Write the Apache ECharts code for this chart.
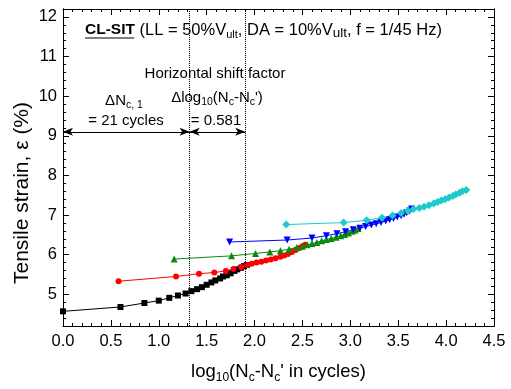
<!DOCTYPE html>
<html>
<head>
<meta charset="utf-8">
<script src="https://cdn.jsdelivr.net/npm/echarts@6/dist/echarts.min.js"></script>
<style>html,body{margin:0;padding:0;background:#fff}#c{width:511px;height:389px}</style>
</head>
<body>
<div id="c"></div>
<script>
// x = log10(Nc - Nc'), y = tensile strain (%)
var blackData = [[0,4.57],[0.60,4.68],[0.85,4.78],[1.00,4.84],[1.11,4.91],[1.20,4.97],[1.28,5.02],[1.34,5.08],[1.40,5.13],[1.45,5.18],[1.50,5.24],[1.55,5.30],[1.59,5.35],[1.64,5.40],[1.67,5.45],[1.71,5.48],[1.75,5.53],[1.79,5.59],[1.82,5.63],[1.86,5.67],[1.89,5.71],[1.92,5.74]];
var redData = [[0.58,5.33],[1.18,5.45],[1.42,5.52],[1.58,5.55],[1.70,5.59],[1.78,5.64],[1.86,5.69],[1.92,5.74],[1.97,5.77],[2.02,5.80],[2.07,5.82],[2.12,5.85],[2.17,5.88],[2.22,5.91],[2.27,5.95],[2.31,5.98],[2.35,6.02],[2.39,6.07],[2.43,6.12],[2.47,6.17],[2.50,6.21],[2.53,6.25]];
var greenData = [[1.16,5.89],[1.76,5.97],[2.01,6.03],[2.16,6.07],[2.27,6.10],[2.36,6.14],[2.44,6.18],[2.50,6.21],[2.55,6.25],[2.60,6.28],[2.65,6.31],[2.70,6.35],[2.75,6.38],[2.80,6.41],[2.85,6.44],[2.90,6.48],[2.94,6.51],[2.98,6.55],[3.02,6.59],[3.05,6.62],[3.08,6.66]];
var blueData = [[1.74,6.32],[2.34,6.37],[2.60,6.42],[2.75,6.48],[2.86,6.53],[2.95,6.58],[3.03,6.63],[3.10,6.67],[3.16,6.71],[3.22,6.75],[3.27,6.78],[3.32,6.81],[3.37,6.85],[3.41,6.88],[3.45,6.91],[3.49,6.95],[3.53,6.98],[3.56,7.02],[3.59,7.06],[3.62,7.10],[3.64,7.15]];
var cyanData = [[2.33,6.76],[2.93,6.81],[3.17,6.87],[3.33,6.93],[3.44,6.99],[3.53,7.05],[3.60,7.10],[3.66,7.15],[3.72,7.18],[3.77,7.21],[3.82,7.25],[3.87,7.29],[3.91,7.33],[3.95,7.37],[3.99,7.40],[4.03,7.44],[4.07,7.48],[4.10,7.52],[4.14,7.56],[4.17,7.60],[4.21,7.63]];

var shiftLines = [1.322, 1.903];   // log10(21), log10(21)+0.581
var arrowY = 9.1;

var yMajorTicks = [5, 6, 7, 8, 9, 10, 11, 12];
var yMinorTicks = [];
for (var v = 44; v <= 122; v += 2) { yMinorTicks.push(v / 10); }

var chart = echarts.init(document.getElementById('c'), null, {renderer: 'canvas'});
var FONT = 'Liberation Sans, Arial, sans-serif';

function yAx(pos, ticks, len, labels) {
  return {
    type: 'value', position: pos, min: 4.2, max: 12.2,
    axisLine: {show: true, onZero: false, lineStyle: {color: '#000', width: 1}},
    axisTick: {show: true, inside: true, length: len, customValues: ticks, lineStyle: {color: '#000', width: 1}},
    axisLabel: labels ? {show: true, customValues: yMajorTicks, color: '#000', fontSize: 16.5, fontFamily: FONT, margin: 6} : {show: false},
    splitLine: {show: false}
  };
}
function xAx(pos, labels) {
  return {
    type: 'value', position: pos, min: 0, max: 4.5, interval: 0.5,
    axisLine: {show: true, onZero: false, lineStyle: {color: '#000', width: 1}},
    axisTick: {show: true, inside: true, length: 6, lineStyle: {color: '#000', width: 1}},
    minorTick: {show: true, splitNumber: 5, length: 3, lineStyle: {color: '#000', width: 1}},
    axisLabel: labels ? {show: true, color: '#000', fontSize: 16.5, fontFamily: FONT, margin: 7,
      formatter: function (v) { return v.toFixed(1); }} : {show: false},
    splitLine: {show: false},
    name: labels ? 'log{s|10}(N{s|c}-N{s|c}\' in cycles)' : '',
    nameLocation: 'middle', nameGap: 34,
    nameTextStyle: {color: '#000', fontSize: 18.5, fontFamily: FONT, lineHeight: 24,
      rich: {s: {fontSize: 12, lineHeight: 13, verticalAlign: 'bottom', color: '#000', fontFamily: FONT}}}
  };
}
function sym(name, color, size, data) {
  return {
    type: 'line', data: data, symbol: name, symbolSize: size, showSymbol: true,
    lineStyle: {color: color, width: 1}, itemStyle: {color: color},
    xAxisIndex: 0, yAxisIndex: 0, animation: false, z: 3
  };
}

var black = sym('rect', '#000000', 6, blackData);
black.markLine = {
  silent: true, animation: false, label: {show: false},
  symbol: ['none', 'none'],
  lineStyle: {color: '#000', type: 'dotted', width: 1},
  data: [
    {xAxis: shiftLines[0]}, {xAxis: shiftLines[1]},
    [{coord: [0, arrowY], symbol: 'arrow', symbolSize: [6, 10], lineStyle: {type: 'solid', width: 1}},
     {coord: [shiftLines[0], arrowY], symbol: 'arrow', symbolSize: [6, 10]}],
    [{coord: [shiftLines[0], arrowY], symbol: 'arrow', symbolSize: [6, 10], lineStyle: {type: 'solid', width: 1}},
     {coord: [shiftLines[1], arrowY], symbol: 'arrow', symbolSize: [6, 10]}]
  ]
};

var sub = {fontSize: 10.5, lineHeight: 11, verticalAlign: 'bottom', fontFamily: FONT, fill: '#000'};

var option = {
  backgroundColor: '#fff',
  animation: false,
  grid: {left: 63, right: 17, top: 9, bottom: 48, containLabel: false},
  xAxis: [xAx('bottom', true), xAx('top', false)],
  yAxis: [yAx('left', yMajorTicks, 6, true), yAx('left', yMinorTicks, 3, false),
          yAx('right', yMajorTicks, 6, false), yAx('right', yMinorTicks, 3, false)],
  series: [
    black,
    sym('circle', '#ff0000', 6, redData),
    sym('triangle', '#0a8a0a', 7, greenData),
    Object.assign(sym('triangle', '#0000ff', 7, blueData), {symbolRotate: 180}),
    sym('diamond', '#1ccaca', 8, cyanData)
  ],
  graphic: [
    {type: 'text', x: 85, y: 30, style: {
      text: '{b|CL-SIT} (LL = 50%V{s|ult}, DA = 10%V{s2|ult}, f = 1/45 Hz)',
      fontSize: 16.5, lineHeight: 21, fontFamily: FONT, fill: '#000', verticalAlign: 'middle', align: 'left',
      rich: {b: {fontWeight: 'bold', fontSize: 15.5, lineHeight: 21, fontFamily: FONT, fill: '#000'},
             s: {fontSize: 11, lineHeight: 11, verticalAlign: 'bottom', fontFamily: FONT, fill: '#000'},
             s2: {fontSize: 13.5, lineHeight: 13, verticalAlign: 'bottom', fontFamily: FONT, fill: '#000'}}}},
    {type: 'line', shape: {x1: 85, y1: 38, x2: 134, y2: 38}, style: {stroke: '#000', lineWidth: 1}},
    {type: 'text', x: 215, y: 74, style: {text: 'Horizontal shift factor', fontSize: 15, fontFamily: FONT, fill: '#000', align: 'center', verticalAlign: 'middle'}},
    {type: 'text', x: 124, y: 101, style: {text: 'ΔN{s|c, 1}', fontSize: 15, lineHeight: 19, fontFamily: FONT, fill: '#000', align: 'center', verticalAlign: 'middle', rich: {s: sub}}},
    {type: 'text', x: 126, y: 121, style: {text: '= 21 cycles', fontSize: 15, fontFamily: FONT, fill: '#000', align: 'center', verticalAlign: 'middle'}},
    {type: 'text', x: 217, y: 98, style: {text: 'Δlog{s|10}(N{s|c}-N{s|c}\')', fontSize: 15, lineHeight: 19, fontFamily: FONT, fill: '#000', align: 'center', verticalAlign: 'middle', rich: {s: sub}}},
    {type: 'text', x: 216, y: 121, style: {text: '= 0.581', fontSize: 15, fontFamily: FONT, fill: '#000', align: 'center', verticalAlign: 'middle'}},
    {type: 'text', x: 22, y: 193, rotation: Math.PI / 2, style: {text: 'Tensile strain, ε (%)', fontSize: 21, fontFamily: FONT, fill: '#000', align: 'center', verticalAlign: 'middle'}}
  ]
};
chart.setOption(option);
</script>
</body>
</html>
